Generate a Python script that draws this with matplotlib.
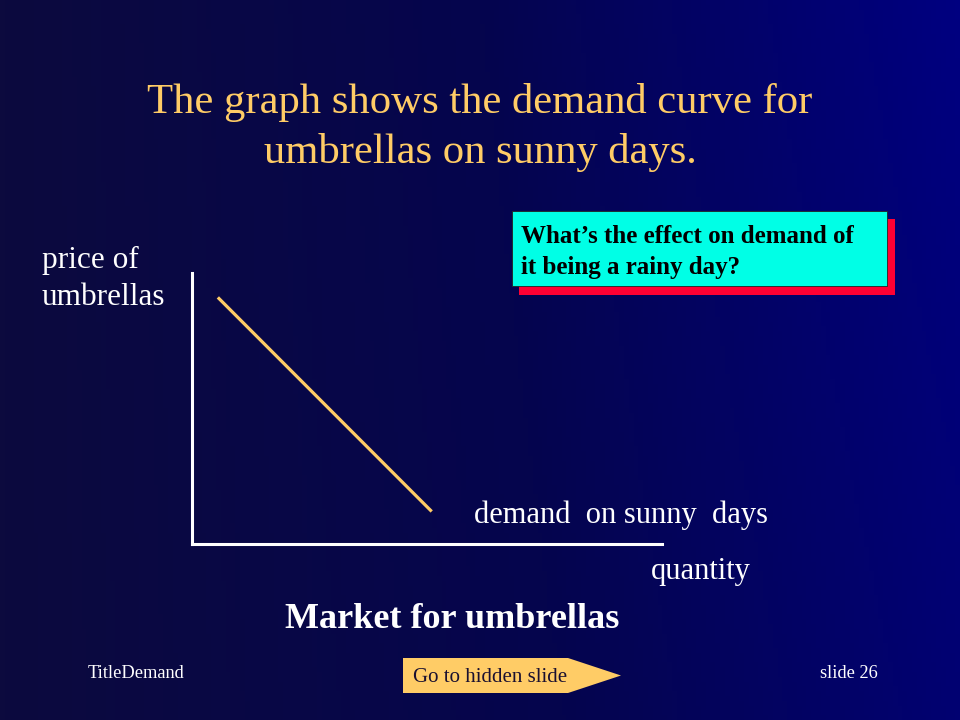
import numpy as np
import matplotlib
matplotlib.use("Agg")
import matplotlib.pyplot as plt
from matplotlib.patches import Rectangle, Polygon
from matplotlib.colors import LinearSegmentedColormap

# ---- data ----
quantity = [0.55, 5.1]
price = [9.1, 1.2]
title_lines = ["The graph shows the demand curve for", "umbrellas on sunny days."]
y_label = "price of\numbrellas"
x_label = "quantity"
curve_label = "demand  on sunny  days"
chart_title = "Market for umbrellas"
question = "What\u2019s the effect on demand of\nit being a rainy day?"

SERIF = ["Liberation Serif", "DejaVu Serif"]
plt.rcParams["font.family"] = SERIF

fig = plt.figure(figsize=(9.6, 7.2), dpi=100)

# background gradient axes in pixel coordinates
bg = fig.add_axes([0, 0, 1, 1])
bg.set_xlim(0, 960)
bg.set_ylim(720, 0)
bg.axis("off")
cmap = LinearSegmentedColormap.from_list("bg", ["#0c0a3e", "#05054e", "#000080"])
xx, yy = np.meshgrid(np.linspace(0, 1, 200), np.linspace(0, 1, 150))
grad = 0.85 * xx + 0.15 * (1 - yy) * xx
bg.imshow(grad, cmap=cmap, extent=[0, 960, 720, 0], aspect="auto", zorder=0)

# title
bg.text(480, 102, title_lines[0], color="#FFCC66", fontsize=30.7, ha="center", va="center")
bg.text(480, 152, title_lines[1], color="#FFCC66", fontsize=30.7, ha="center", va="center")

# axis labels
bg.text(42, 279, y_label, color="white", fontsize=22.5, ha="left", va="center", linespacing=1.32)
bg.text(474, 515, curve_label, color="white", fontsize=22, ha="left", va="center")
bg.text(651, 571, x_label, color="white", fontsize=22, ha="left", va="center")
bg.text(452, 619, chart_title, color="white", fontsize=26, fontweight="bold", ha="center", va="center")

# question box with red shadow
bg.add_patch(Rectangle((519, 219), 376, 76, facecolor="#FF0033", edgecolor="none", zorder=2))
bg.add_patch(Rectangle((512, 211), 375, 75, facecolor="#00FFE6", edgecolor="#222222", linewidth=0.6, zorder=3))
bg.text(521, 252, question, color="black", fontsize=18, fontweight="bold", ha="left", va="center",
        linespacing=1.45, zorder=4)

# footer
bg.text(88, 673, "TitleDemand", color="white", fontsize=13.2, ha="left", va="center")
bg.text(820, 673, "slide 26", color="white", fontsize=13.2, ha="left", va="center")
bg.add_patch(Polygon([(403, 658), (568, 658), (621, 675.5), (568, 693), (403, 693)],
                     closed=True, facecolor="#FFCC66", edgecolor="none", zorder=2))
bg.text(413, 677, "Go to hidden slide", color="#1a1030", fontsize=15, ha="left", va="center", zorder=3)

# chart axes
ax = fig.add_axes([192 / 960, (720 - 544) / 720, 470 / 960, 271 / 720])
ax.patch.set_alpha(0)
ax.set_xlim(0, 10)
ax.set_ylim(0, 10)
ax.plot(quantity, price, color="#FFCC66", linewidth=2.3, solid_capstyle="butt")
for s in ["top", "right"]:
    ax.spines[s].set_visible(False)
for s in ["left", "bottom"]:
    ax.spines[s].set_color("white")
    ax.spines[s].set_linewidth(2.2)
ax.set_xticks([])
ax.set_yticks([])

fig.savefig("out.png", dpi=100)
